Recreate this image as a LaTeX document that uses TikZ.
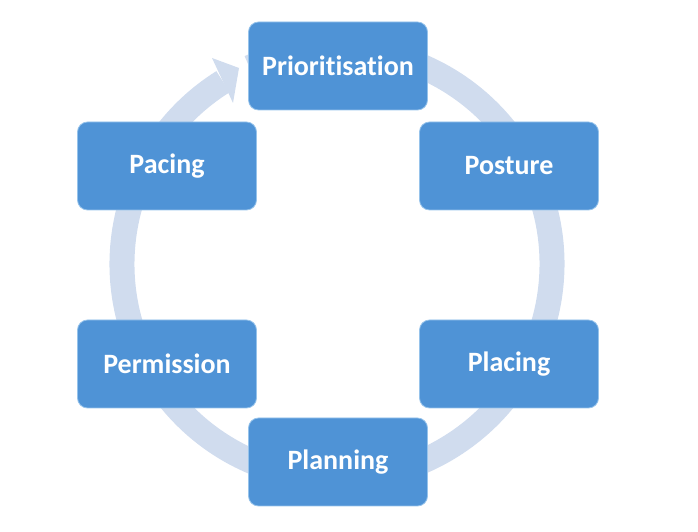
\documentclass[tikz,border=0pt]{standalone}
\usepackage{fontspec}
\setmainfont{Carlito}[Ligatures=NoCommon]
\usetikzlibrary{calc}
\definecolor{boxblue}{RGB}{79,147,214}
\definecolor{boxedge}{RGB}{150,195,235}
\definecolor{ringblue}{RGB}{208,220,238}
\tikzset{
  stage/.style={rectangle, rounded corners=10pt, fill=boxblue, draw=boxedge, line width=0.8pt,
    minimum width=179pt, minimum height=88pt, text=white,
    font=\bfseries\fontsize{28}{30}\selectfont, inner sep=0pt},
  ring/.style={draw=ringblue, line width=25pt},
  ringhead/.style={fill=ringblue, draw=none}
}
\begin{document}
\begin{tikzpicture}[x=1pt,y=1pt]
\useasboundingbox (0,0) rectangle (698,532);
\coordinate (c) at (337,268);
% ring
\draw[ring] ($(c)+(122:215)$) arc[start angle=122, end angle=474, radius=215];
% arrow head
\coordinate (tip) at (239,464);
\coordinate (w1) at (212,474);
\coordinate (w2) at (233,429);
\fill[ringhead] (w1) -- (tip) -- (w2) -- cycle;
% boxes
\node[stage] (prio) at (338,466) {Prioritisation};
\node[stage] (post) at (509,366) {Posture};
\node[stage] (plac) at (509,168) {Placing};
\node[stage] (plan) at (338,70) {Planning};
\node[stage] (perm) at (167,168) {Permission};
\node[stage] (pace) at (167,366) {Pacing};
\end{tikzpicture}
\end{document}
